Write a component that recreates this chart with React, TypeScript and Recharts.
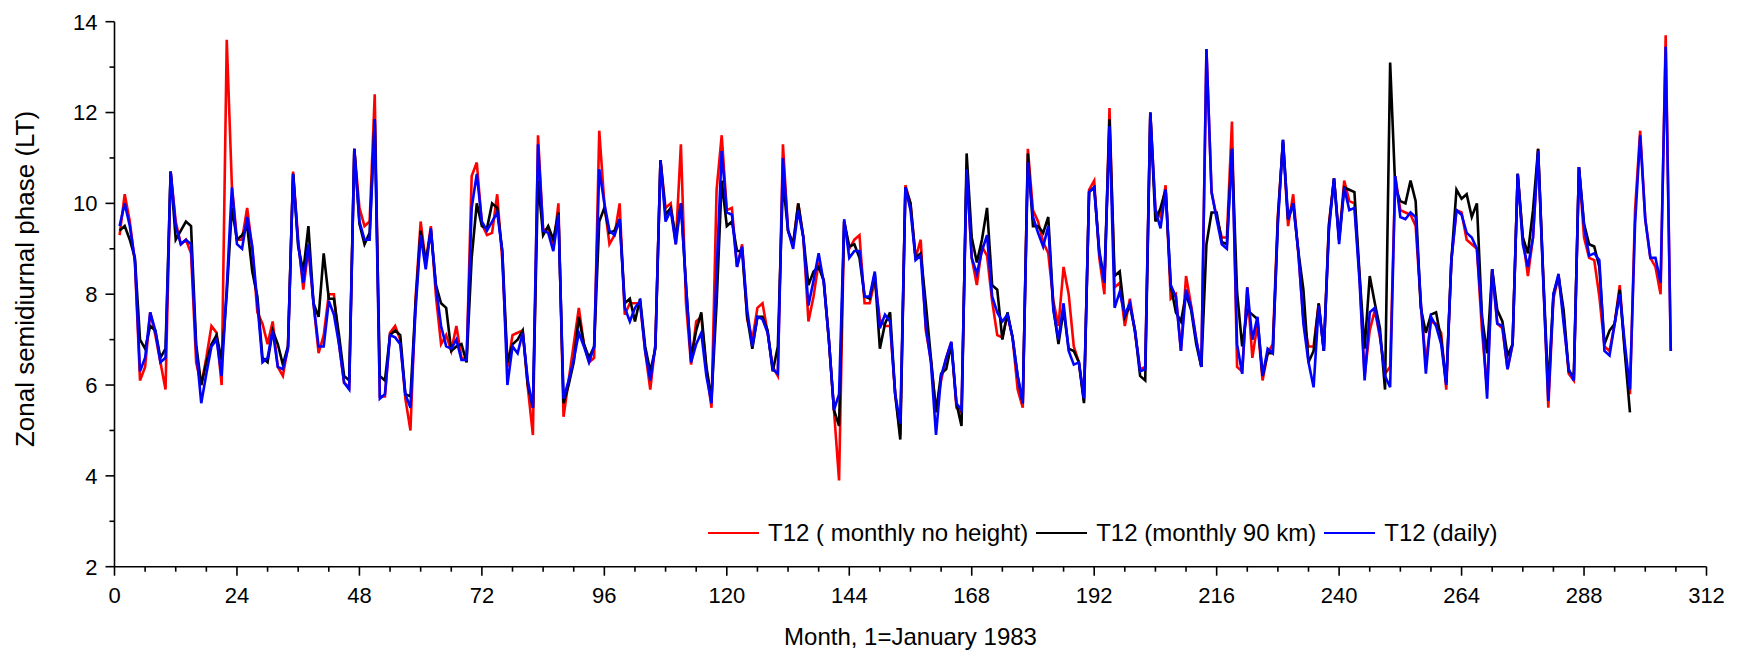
import React from 'react';
import { LineChart, Line, XAxis, YAxis } from 'recharts';

// month index (1 = January 1983)
const months = Array.from({ length: 305 }, (_, i) => i + 1);

const xTicks = [0, 6, 12, 18, 24, 30, 36, 42, 48, 54, 60, 66, 72, 78, 84, 90, 96, 102, 108, 114, 120, 126, 132, 138, 144, 150, 156, 162, 168, 174, 180, 186, 192, 198, 204, 210, 216, 222, 228, 234, 240, 246, 252, 258, 264, 270, 276, 282, 288, 294, 300, 306, 312];
const yTicks = [2, 3, 4, 5, 6, 7, 8, 9, 10, 11, 12, 13, 14];

// T12 ( monthly no height)
const redPhase = [
  9.3, 10.2, 9.6, 8.7, 6.1, 6.4, 7.6, 7.1, 6.5, 5.9,
  10.7, 9.6, 9.1, 9.2, 8.9, 6.5, 6.0, 6.6, 7.3, 7.15,
  6.0, 13.6, 10.4, 9.2, 9.2, 9.9, 9.0, 7.6, 7.35, 6.9,
  7.4, 6.4, 6.2, 6.85, 10.7, 9.2, 8.1, 9.0, 7.8, 6.7,
  7.1, 8.0, 8.0, 6.9, 6.05, 5.95, 11.2, 9.9, 9.5, 9.6,
  12.4, 5.75, 5.75, 7.15, 7.3, 7.0, 5.7, 5.0, 7.9, 9.6,
  8.7, 9.5, 7.95, 6.9, 7.1, 6.75, 7.3, 6.6, 6.55, 10.6,
  10.9, 9.55, 9.3, 9.35, 10.2, 8.75, 6.4, 7.1, 7.15, 7.2,
  5.95, 4.9, 11.5, 9.4, 9.45, 9.0, 10.0, 5.3, 6.1, 6.9,
  7.7, 6.9, 6.5, 6.6, 11.6, 10.0, 9.1, 9.3, 10.0, 7.55,
  7.8, 7.8, 7.8, 6.75, 5.9, 6.9, 10.95, 9.9, 10.0, 9.1,
  11.3, 7.8, 6.45, 7.4, 7.5, 6.35, 5.5, 10.3, 11.5, 9.85,
  9.9, 8.6, 9.1, 7.45, 7.0, 7.7, 7.8, 7.15, 6.4, 6.2,
  11.3, 9.4, 9.1, 10.0, 9.25, 7.4, 7.95, 8.7, 8.3, 7.0,
  5.45, 3.9, 9.6, 9.0, 9.2, 9.3, 7.8, 7.8, 8.3, 7.45,
  7.3, 7.3, 5.8, 4.9, 10.4, 10.0, 8.8, 9.2, 7.2, 6.55,
  5.45, 6.1, 6.6, 6.95, 5.5, 5.4, 10.75, 8.8, 8.2, 9.05,
  8.85, 7.85, 7.1, 7.05, 7.55, 7.05, 5.9, 5.5, 11.2, 9.85,
  9.6, 9.15, 8.9, 7.85, 7.3, 8.6, 8.0, 6.85, 6.5, 5.65,
  10.3, 10.5, 8.8, 8.0, 12.1, 8.15, 8.25, 7.3, 7.9, 7.15,
  6.35, 6.4, 12.0, 9.85, 9.7, 10.4, 7.9, 8.0, 6.75, 8.4,
  7.75, 7.0, 6.4, 13.4, 10.25, 9.7, 9.25, 9.25, 11.8, 6.4,
  6.3, 8.15, 6.6, 7.35, 6.1, 6.7, 6.9, 9.75, 11.35, 9.5,
  10.2, 8.9, 7.45, 6.85, 6.85, 7.8, 6.75, 9.55, 10.55, 9.2,
  10.5, 10.05, 10.0, 8.4, 6.2, 7.2, 7.65, 7.05, 6.25, 6.4,
  10.6, 9.85, 9.8, 9.75, 9.5, 7.8, 6.5, 7.4, 7.35, 7.15,
  5.9, 8.75, 9.85, 9.8, 9.2, 9.1, 9.0, 7.2, 5.9, 8.55,
  7.35, 7.25, 6.35, 6.9, 10.65, 9.25, 8.4, 9.25, 11.2, 8.4,
  5.5, 7.9, 8.4, 7.5, 6.25, 6.1, 10.8, 9.25, 8.8, 8.75,
  7.95, 6.85, 6.75, 7.35, 8.2, 6.75, 5.8, 9.85, 11.6, 9.65,
  8.8, 8.6, 8.0, 13.7, 6.75,
];

// T12 (monthly 90 km) - ends earlier
const blackPhase = [
  9.4, 9.5, 9.2, 8.8, 7.0, 6.8, 7.3, 7.2, 6.6, 6.8,
  10.7, 9.2, 9.4, 9.6, 9.5, 6.9, 6.0, 6.5, 6.9, 7.1,
  6.55, 8.0, 9.9, 9.2, 9.3, 9.5, 8.5, 7.95, 6.6, 6.5,
  7.2, 6.9, 6.45, 6.85, 10.65, 9.05, 8.5, 9.5, 7.8, 7.5,
  8.9, 7.9, 7.9, 7.1, 6.2, 6.1, 11.2, 9.55, 9.1, 9.35,
  11.85, 6.2, 6.1, 7.1, 7.2, 7.1, 5.8, 5.75, 7.8, 9.4,
  8.7, 9.4, 8.2, 7.8, 7.7, 6.75, 6.85, 6.9, 6.5, 8.8,
  10.0, 9.5, 9.45, 10.0, 9.9, 8.95, 6.5, 6.9, 7.0, 7.2,
  6.0, 5.5, 10.5, 9.3, 9.5, 9.2, 9.8, 5.6, 6.0, 6.5,
  7.5, 6.9, 6.6, 6.85, 9.6, 9.9, 9.35, 9.4, 9.65, 7.8,
  7.9, 7.4, 7.9, 6.85, 6.3, 6.8, 10.95, 9.75, 9.9, 9.25,
  10.0, 8.2, 6.6, 7.2, 7.6, 6.4, 5.7, 7.8, 10.5, 9.5,
  9.6, 8.95, 8.95, 7.5, 6.8, 7.5, 7.5, 7.2, 6.3, 6.85,
  10.5, 9.4, 9.1, 10.0, 9.25, 8.2, 8.5, 8.6, 8.3, 7.0,
  5.45, 5.1, 9.6, 9.05, 9.1, 8.8, 7.95, 7.9, 8.45, 6.8,
  7.35, 7.6, 5.8, 4.8, 10.35, 10.0, 8.8, 8.9, 7.8, 6.6,
  5.4, 6.25, 6.35, 6.9, 5.6, 5.1, 11.1, 9.25, 8.7, 9.2,
  9.9, 8.2, 8.1, 7.0, 7.6, 7.05, 6.2, 5.6, 11.1, 9.5,
  9.5, 9.35, 9.7, 7.7, 6.9, 7.65, 6.8, 6.75, 6.5, 5.6,
  10.25, 10.35, 8.95, 8.3, 11.85, 8.4, 8.5, 7.5, 7.75, 7.2,
  6.2, 6.1, 12.0, 9.6, 9.9, 10.3, 8.2, 7.6, 7.4, 8.0,
  7.65, 6.9, 6.4, 9.1, 9.8, 9.8, 9.15, 9.1, 11.2, 8.05,
  6.85, 7.65, 7.55, 7.45, 6.2, 6.7, 6.7, 9.65, 11.4, 9.65,
  10.0, 8.95, 8.1, 6.5, 6.75, 7.8, 6.75, 9.5, 10.55, 9.2,
  10.35, 10.3, 10.25, 8.45, 6.8, 8.4, 7.8, 7.25, 5.9, 13.1,
  10.35, 10.05, 10.0, 10.5, 10.05, 7.7, 7.15, 7.55, 7.6, 7.0,
  6.05, 8.75, 10.3, 10.1, 10.2, 9.7, 10.0, 7.5, 6.7, 8.55,
  7.65, 7.4, 6.65, 6.9, 10.65, 9.25, 8.9, 9.85, 11.2, 8.4,
  5.9, 8.0, 8.4, 7.65, 6.3, 6.2, 10.8, 9.55, 9.1, 9.05,
  8.6, 6.9, 7.2, 7.35, 8.1, 6.7, 5.4,
];

// T12 (daily)
const bluePhase = [
  9.5, 10.0, 9.5, 8.75, 6.3, 6.6, 7.6, 7.2, 6.5, 6.6,
  10.7, 9.5, 9.1, 9.2, 9.1, 6.8, 5.6, 6.25, 6.85, 7.0,
  6.2, 8.15, 10.35, 9.1, 9.0, 9.7, 9.05, 7.8, 6.5, 6.6,
  7.2, 6.4, 6.35, 6.8, 10.65, 9.1, 8.25, 9.1, 7.8, 6.85,
  6.85, 7.85, 7.55, 6.9, 6.05, 5.9, 11.2, 9.6, 9.2, 9.2,
  11.85, 5.7, 5.8, 7.1, 7.05, 6.9, 5.8, 5.5, 7.65, 9.3,
  8.55, 9.45, 8.15, 7.3, 6.85, 6.8, 7.0, 6.55, 6.55, 9.9,
  10.65, 9.6, 9.4, 9.6, 9.8, 8.95, 6.0, 6.85, 6.7, 7.15,
  6.1, 5.5, 11.3, 9.4, 9.35, 8.95, 9.75, 5.7, 6.1, 6.55,
  7.15, 6.85, 6.5, 6.85, 10.75, 10.0, 9.4, 9.3, 9.65, 7.7,
  7.4, 7.7, 7.85, 6.75, 6.1, 6.85, 10.95, 9.6, 9.85, 9.1,
  10.0, 8.2, 6.5, 6.9, 7.15, 6.2, 5.6, 8.5, 11.15, 9.8,
  9.75, 8.6, 9.05, 7.65, 6.85, 7.5, 7.45, 7.15, 6.35, 6.25,
  11.0, 9.4, 9.0, 9.85, 9.25, 7.75, 8.3, 8.9, 8.25, 7.0,
  5.45, 5.8, 9.65, 8.8, 8.95, 8.95, 7.95, 7.95, 8.5, 7.25,
  7.55, 7.4, 5.8, 5.15, 10.35, 9.85, 8.75, 8.85, 7.3, 6.5,
  4.9, 6.2, 6.6, 6.95, 5.6, 5.45, 10.75, 8.8, 8.45, 8.95,
  9.3, 7.95, 7.6, 7.4, 7.55, 7.05, 6.2, 5.6, 10.9, 9.7,
  9.35, 9.05, 9.5, 7.65, 7.0, 7.8, 6.75, 6.45, 6.5, 5.7,
  10.25, 10.35, 8.9, 8.25, 11.7, 7.7, 8.05, 7.55, 7.8, 7.2,
  6.3, 6.35, 12.0, 9.85, 9.45, 10.3, 8.2, 7.95, 6.75, 8.1,
  7.7, 7.0, 6.4, 13.4, 10.25, 9.65, 9.1, 9.0, 11.2, 6.9,
  6.25, 8.15, 7.0, 7.5, 6.2, 6.8, 6.7, 9.55, 11.4, 9.65,
  10.0, 8.95, 7.35, 6.5, 5.95, 7.75, 6.75, 9.4, 10.55, 9.1,
  10.35, 9.85, 9.9, 8.3, 6.1, 7.6, 7.7, 7.1, 6.2, 5.95,
  10.6, 9.7, 9.65, 9.8, 9.7, 7.85, 6.25, 7.5, 7.3, 6.9,
  6.0, 8.75, 9.85, 9.75, 9.35, 9.25, 9.0, 7.5, 5.7, 8.55,
  7.35, 7.3, 6.35, 6.9, 10.65, 9.1, 8.6, 9.25, 11.15, 8.3,
  5.65, 8.0, 8.45, 7.35, 6.35, 6.1, 10.8, 9.5, 8.85, 8.9,
  8.75, 6.75, 6.65, 7.35, 8.0, 6.9, 5.9, 9.55, 11.5, 9.65,
  8.8, 8.8, 8.25, 13.45, 6.75,
];

const W = 1744;
const H = 652;
const PLOT_LEFT = 114.5;
const PLOT_RIGHT = 1706.5;
const PLOT_TOP = 21.7;
const PLOT_BOTTOM = 566.7;
const Y_AXIS_W = 90;
const X_AXIS_H = 70;
const FONT = "'Liberation Sans', Arial, Helvetica, sans-serif";

const rows = months.map((m, i) => ({
  m,
  red: redPhase[i],
  black: blackPhase[i] ?? null,
  blue: bluePhase[i],
}));

const XTick = (props: any) => {
  const { x, y, payload } = props;
  const v = payload.value;
  const major = v % 24 === 0;
  return (
    <g>
      <line x1={x} x2={x} y1={y} y2={y + (major ? 9 : 5)} stroke="#000" strokeWidth={1.6} />
      {major && (
        <text x={x} y={y + 28} dy="0.36em" textAnchor="middle" fontSize={22} fontFamily={FONT} fill="#000">
          {v}
        </text>
      )}
    </g>
  );
};

const YTick = (props: any) => {
  const { x, y, payload } = props;
  const v = payload.value;
  const major = v % 2 === 0;
  return (
    <g>
      <line x1={x - (major ? 9 : 5)} x2={x} y1={y} y2={y} stroke="#000" strokeWidth={1.6} />
      {major && (
        <text x={x - 17} y={y} dy="0.36em" textAnchor="end" fontSize={22} fontFamily={FONT} fill="#000">
          {v}
        </text>
      )}
    </g>
  );
};

const legendItems = [
  { label: 'T12 ( monthly no height)', color: '#ff0000' },
  { label: 'T12 (monthly 90 km)', color: '#000000' },
  { label: 'T12 (daily)', color: '#0000ff' },
];

export default function App() {
  return (
    <div style={{ position: 'absolute', left: 0, top: 0, width: W, height: H, background: '#fff' }}>
      <LineChart
        width={W}
        height={H}
        data={rows}
        margin={{
          top: PLOT_TOP,
          right: W - PLOT_RIGHT,
          bottom: H - PLOT_BOTTOM - X_AXIS_H,
          left: PLOT_LEFT - Y_AXIS_W,
        }}
      >
        <XAxis
          dataKey="m"
          type="number"
          domain={[0, 312]}
          ticks={xTicks}
          interval={0}
          height={X_AXIS_H}
          tickLine={false}
          tickSize={0}
          tickMargin={0}
          tick={(p: any) => <XTick {...p} />}
          axisLine={{ stroke: '#000', strokeWidth: 1.6 }}
          label={() => (
            <text
              x={(PLOT_LEFT + PLOT_RIGHT) / 2}
              y={636}
              dy="0.36em"
              textAnchor="middle"
              fontSize={24}
              fontFamily={FONT}
              fill="#000"
            >
              Month, 1=January 1983
            </text>
          )}
        />
        <YAxis
          type="number"
          domain={[2, 14]}
          ticks={yTicks}
          interval={0}
          width={Y_AXIS_W}
          tickLine={false}
          tickSize={0}
          tickMargin={0}
          tick={(p: any) => <YTick {...p} />}
          axisLine={{ stroke: '#000', strokeWidth: 1.6 }}
          label={() => (
            <text
              x={24.5}
              y={279}
              dy="0.36em"
              textAnchor="middle"
              fontSize={26}
              fontFamily={FONT}
              fill="#000"
              transform="rotate(-90, 24.5, 279)"
            >
              Zonal semidiurnal phase (LT)
            </text>
          )}
        />
        <Line dataKey="red" stroke="#ff0000" strokeWidth={2.6} dot={false} type="linear" isAnimationActive={false} />
        <Line dataKey="black" stroke="#000000" strokeWidth={2.6} dot={false} type="linear" isAnimationActive={false} />
        <Line dataKey="blue" stroke="#0000ff" strokeWidth={2.6} dot={false} type="linear" isAnimationActive={false} />
      </LineChart>
      <div
        style={{
          position: 'absolute',
          left: 708,
          top: 518,
          height: 30,
          display: 'flex',
          alignItems: 'center',
          fontFamily: FONT,
          fontSize: 24,
          color: '#000',
          whiteSpace: 'nowrap',
        }}
      >
        {legendItems.map((it, i) => (
          <React.Fragment key={it.label}>
            <span
              style={{
                display: 'inline-block',
                width: 51,
                height: 2.6,
                background: it.color,
                marginLeft: i === 0 ? 0 : 8,
                marginRight: 9,
              }}
            />
            <span>{it.label}</span>
          </React.Fragment>
        ))}
      </div>
    </div>
  );
}
